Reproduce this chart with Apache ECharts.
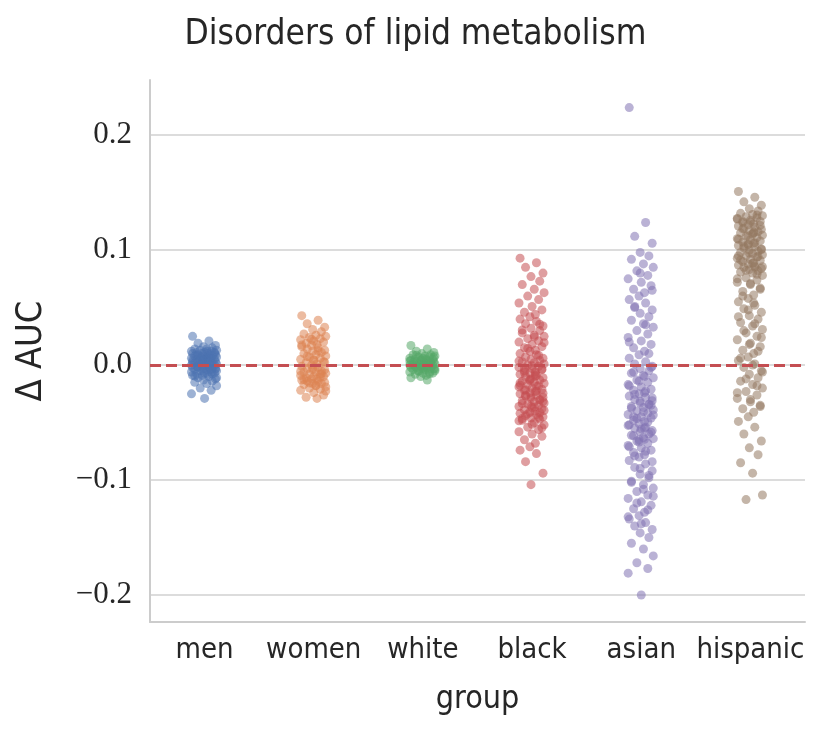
<!DOCTYPE html>
<html>
<head>
<meta charset="utf-8">
<script src="https://cdn.jsdelivr.net/npm/echarts@6/dist/echarts.min.js"></script>
<style>
  html, body { margin: 0; padding: 0; background: #fff; }
  #chartMain { width: 831px; height: 734px; }
</style>
</head>
<body>
<div id="chartMain"></div>
<script>
// 分组
var groups = ['men', 'women', 'white', 'black', 'asian', 'hispanic'];
var colors = ['#4c72b0', '#dd8452', '#55a868', '#c44e52', '#8172b3', '#937860'];

// Δ AUC 取值
var menVals = [0.025, 0.021, 0.019, 0.017, 0.016, 0.015, 0.014, 0.014, 0.013, 0.013, 0.012, 0.012, 0.011, 0.011, 0.011, 0.010, 0.010, 0.010, 0.009, 0.009, 0.009, 0.008, 0.008, 0.008, 0.007, 0.007, 0.007, 0.006, 0.006, 0.006, 0.005, 0.005, 0.005, 0.004, 0.004, 0.004, 0.003, 0.003, 0.003, 0.002, 0.002, 0.002, 0.001, 0.001, 0.001, 0.000, 0.000, 0.000, -0.001, -0.001, -0.001, -0.002, -0.002, -0.002, -0.003, -0.003, -0.003, -0.004, -0.004, -0.005, -0.005, -0.006, -0.006, -0.007, -0.007, -0.008, -0.008, -0.009, -0.009, -0.010, -0.011, -0.012, -0.013, -0.014, -0.015, -0.016, -0.018, -0.020, -0.022, -0.025, -0.029,
    0.0105, 0.0085, 0.0065, 0.0045, 0.0025, 0.0005, -0.0015, -0.0035, -0.0055, -0.0075, -0.0095, 0.012, -0.011, 0.005, -0.004];
var womenVals = [0.043, 0.039, 0.036, 0.033, 0.031, 0.029, 0.027, 0.026, 0.025, 0.024, 0.023, 0.022, 0.021, 0.020, 0.019, 0.018, 0.017, 0.016, 0.015, 0.014, 0.013, 0.012, 0.011, 0.010, 0.009, 0.008, 0.007, 0.006, 0.005, 0.004, 0.003, 0.002, 0.001, 0.000, -0.001, -0.002, -0.003, -0.004, -0.004, -0.005, -0.006, -0.006, -0.007, -0.008, -0.008, -0.009, -0.010, -0.010, -0.011, -0.012, -0.012, -0.013, -0.014, -0.014, -0.015, -0.016, -0.016, -0.017, -0.018, -0.019, -0.020, -0.021, -0.022, -0.024, -0.026, -0.028, -0.029,
    0.0225, 0.0175, 0.0125, 0.0075, 0.0025, -0.0025, -0.0075, -0.0125, -0.0175, -0.0225, -0.0155, -0.0105, -0.0055, 0.0045];
var whiteVals = [0.017, 0.014, 0.012, 0.011, 0.010, 0.009, 0.009, 0.008, 0.008, 0.007, 0.007, 0.006, 0.006, 0.005, 0.005, 0.005, 0.004, 0.004, 0.004, 0.003, 0.003, 0.003, 0.002, 0.002, 0.002, 0.001, 0.001, 0.001, 0.000, 0.000, 0.000, -0.001, -0.001, -0.001, -0.002, -0.002, -0.002, -0.003, -0.003, -0.003, -0.004, -0.004, -0.005, -0.005, -0.006, -0.006, -0.007, -0.007, -0.008, -0.009, -0.010, -0.011, -0.013,
    0.0085, 0.0065, 0.0045, 0.0025, 0.0005, -0.0015, -0.0035, -0.0055, -0.0075, 0.0035, -0.0025];
var blackVals = [0.093, 0.089, 0.085, 0.080, 0.077, 0.073, 0.070, 0.066, 0.063, 0.060, 0.057, 0.054, 0.051, 0.048, 0.046, 0.044, 0.042, 0.040, 0.038, 0.036, 0.034, 0.032, 0.030, 0.028, 0.026, 0.025, 0.023, 0.021, 0.020, 0.018, 0.016, 0.015, 0.013, 0.012, 0.010, 0.009, 0.007, 0.006, 0.005, 0.004, 0.003, 0.002, 0.001, 0.000, -0.001, -0.002, -0.003, -0.004, -0.005, -0.006, -0.007, -0.008, -0.009, -0.010, -0.011, -0.012, -0.013, -0.014, -0.015, -0.016, -0.017, -0.018, -0.019, -0.020, -0.021, -0.022, -0.023, -0.024, -0.025, -0.026, -0.027, -0.028, -0.029, -0.030, -0.031, -0.032, -0.033, -0.034, -0.035, -0.036, -0.037, -0.038, -0.039, -0.040, -0.041, -0.042, -0.043, -0.044, -0.045, -0.046, -0.047, -0.048, -0.050, -0.052, -0.054, -0.056, -0.058, -0.060, -0.062, -0.065, -0.068, -0.071, -0.074, -0.077, -0.084, -0.094, -0.104,
    0.0355, 0.0305, 0.0245, 0.0195, 0.0145, 0.0085, 0.0035, -0.0005, -0.0035, -0.0065, -0.0095, -0.0125, -0.0155, -0.0185, -0.0215, -0.0245, -0.0275, -0.0305, -0.0335, -0.0365, -0.0395, -0.0425, -0.0455, -0.0485, -0.0515, -0.0545, -0.0025, -0.0075, -0.0135, -0.0175, -0.0225, -0.0265, -0.0315, -0.0355, -0.0415, -0.0465];
var asianVals = [0.224, 0.124, 0.112, 0.106, 0.098, 0.095, 0.092, 0.088, 0.085, 0.082, 0.078, 0.075, 0.072, 0.069, 0.066, 0.063, 0.060, 0.057, 0.054, 0.051, 0.048, 0.045, 0.042, 0.039, 0.036, 0.033, 0.030, 0.027, 0.024, 0.021, 0.018, 0.015, 0.012, 0.009, 0.006, 0.003, 0.001, -0.001, -0.003, -0.005, -0.007, -0.009, -0.011, -0.013, -0.015, -0.017, -0.019, -0.021, -0.022, -0.024, -0.025, -0.027, -0.028, -0.030, -0.031, -0.033, -0.034, -0.036, -0.037, -0.039, -0.040, -0.042, -0.043, -0.045, -0.046, -0.048, -0.049, -0.051, -0.052, -0.054, -0.055, -0.057, -0.058, -0.060, -0.061, -0.063, -0.064, -0.066, -0.068, -0.070, -0.072, -0.074, -0.076, -0.078, -0.080, -0.083, -0.086, -0.089, -0.092, -0.095, -0.098, -0.101, -0.104, -0.107, -0.110, -0.113, -0.116, -0.119, -0.122, -0.125, -0.128, -0.131, -0.134, -0.137, -0.140, -0.143, -0.146, -0.150, -0.155, -0.160, -0.166, -0.172, -0.177, -0.181, -0.200,
    -0.002, -0.006, -0.010, -0.014, -0.018, -0.0225, -0.0255, -0.0285, -0.0315, -0.0345, -0.0375, -0.0405, -0.0435, -0.0465, -0.0495, -0.0525, -0.0555, -0.0585, -0.0615, -0.0645, -0.067, -0.071, -0.075, -0.079, -0.084, -0.090, -0.096, -0.102, -0.108, -0.114, -0.120, -0.126, -0.132, -0.138, -0.035, -0.045, -0.055, -0.065, 0.020, 0.035, 0.050, 0.065, 0.080, 0.010];
var hispanicVals = [0.151, 0.146, 0.142, 0.139, 0.136, 0.134, 0.132, 0.131, 0.130, 0.129, 0.128, 0.127, 0.126, 0.125, 0.124, 0.123, 0.122, 0.121, 0.120, 0.119, 0.118, 0.117, 0.116, 0.115, 0.114, 0.113, 0.112, 0.111, 0.110, 0.109, 0.108, 0.107, 0.106, 0.105, 0.104, 0.103, 0.102, 0.101, 0.100, 0.099, 0.098, 0.097, 0.096, 0.095, 0.094, 0.093, 0.092, 0.091, 0.090, 0.089, 0.088, 0.087, 0.086, 0.085, 0.084, 0.083, 0.082, 0.081, 0.080, 0.078, 0.076, 0.074, 0.072, 0.070, 0.067, 0.064, 0.061, 0.058, 0.055, 0.052, 0.049, 0.046, 0.043, 0.040, 0.037, 0.034, 0.031, 0.028, 0.025, 0.022, 0.019, 0.016, 0.013, 0.010, 0.007, 0.004, 0.001, -0.002, -0.005, -0.008, -0.011, -0.014, -0.017, -0.020, -0.023, -0.026, -0.029, -0.032, -0.035, -0.038, -0.041, -0.045, -0.049, -0.054, -0.060, -0.066, -0.072, -0.078, -0.085, -0.094, -0.113, -0.117,
    0.1305, 0.1275, 0.1245, 0.1215, 0.1185, 0.1155, 0.1125, 0.1095, 0.1065, 0.1035, 0.1005, 0.0975, 0.0945, 0.0915, 0.0885, 0.0855, 0.0825, 0.079, 0.075, 0.071, 0.066, 0.060, 0.054, 0.048, 0.042, 0.036, 0.030, 0.024, 0.018, 0.012, 0.006, 0.000, -0.006, -0.012, -0.018, -0.024, -0.030, -0.036, 0.125, 0.115, 0.105, 0.095, 0.085];
var allVals = [menVals, womenVals, whiteVals, blackVals, asianVals, hispanicVals];

// y 轴刻度
var yTicks = [-0.2, -0.1, 0.0, 0.1, 0.2];
var refLine = 0;

// 固定的水平抖动偏移（类别宽度的比例）
var JITTER = [-0.11, 0.04, -0.06, 0.10, -0.01, 0.07, -0.09, 0.02, 0.11, -0.04, 0.06, -0.12, 0.00, 0.09, -0.07, 0.03, -0.02];

var sansFont = "'DejaVu Sans Condensed', 'Liberation Sans Narrow', Lato, sans-serif";
var serifFont = "'Liberation Serif', 'DejaVu Serif', serif";

var myChart = echarts.init(document.getElementById('chartMain'));

var series = allVals.map(function (vals, gi) {
    return {
        type: 'scatter',
        name: groups[gi],
        xAxisIndex: 1,
        symbolSize: 9,
        itemStyle: { color: colors[gi], opacity: 0.55 },
        silent: true,
        data: vals.map(function (v, i) {
            return [gi + JITTER[i % JITTER.length], v];
        })
    };
});

series.push({
    type: 'line',
    xAxisIndex: 1,
    data: [],
    z: 10,
    markLine: {
        silent: true,
        symbol: 'none',
        label: { show: false },
        lineStyle: { color: '#c44e52', type: [11, 5], width: 3 },
        data: [{ yAxis: refLine }]
    }
});

myChart.setOption({
    animation: false,
    title: {
        text: 'Disorders of lipid metabolism',
        left: 'center',
        top: 12,
        textStyle: { fontFamily: sansFont, fontWeight: 'normal', fontSize: 35, color: '#262626' }
    },
    grid: { left: 150, right: 26, top: 80, bottom: 112 },
    xAxis: [{
        type: 'category',
        data: groups,
        boundaryGap: true,
        name: 'group',
        nameLocation: 'middle',
        nameGap: 62,
        nameTextStyle: { fontFamily: sansFont, fontSize: 32, color: '#262626' },
        axisLine: { onZero: false, lineStyle: { color: '#cccccc', width: 2 } },
        axisTick: { show: false },
        axisLabel: { fontFamily: sansFont, fontSize: 29, color: '#262626', margin: 14, interval: 0 },
        splitLine: { show: false }
    }, {
        type: 'value',
        min: -0.5,
        max: 5.5,
        show: false
    }],
    yAxis: {
        type: 'value',
        min: -0.2235,
        max: 0.248,
        splitNumber: 5,
        name: 'Δ AUC',
        nameLocation: 'middle',
        nameGap: 100,
        nameRotate: 90,
        nameTextStyle: { fontFamily: sansFont, fontSize: 36, color: '#262626' },
        axisLine: { show: true, onZero: false, lineStyle: { color: '#cccccc', width: 2 } },
        axisTick: { show: false },
        axisLabel: {
            showMinLabel: false,
            showMaxLabel: false,
            fontFamily: serifFont,
            fontSize: 31,
            color: '#262626',
            margin: 18,
            formatter: function (v) {
                var r = Math.round(v * 10) / 10;
                if (yTicks.indexOf(r) < 0) return '';
                return r.toFixed(1).replace('-', '\u2212');
            }
        },
        splitLine: { show: true, showMinLine: false, showMaxLine: false, lineStyle: { color: '#d0d0d0', width: 1.5 } }
    },
    series: series
});
</script>
</body>
</html>
